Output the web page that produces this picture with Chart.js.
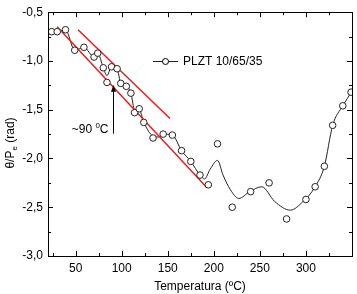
<!DOCTYPE html>
<html><head><meta charset="utf-8">
<script src="https://cdn.jsdelivr.net/npm/chart.js@4/dist/chart.umd.min.js"></script>
<style>html,body{margin:0;padding:0;background:#fff}#wrap{width:357px;height:294px;position:relative}</style>
</head><body><div id="wrap"><canvas id="c"></canvas></div>
<script>
// measured points
const temps = [24, 30, 39, 49, 59, 70, 74, 80, 84, 89, 95, 99, 105, 110, 114, 119, 124, 134, 145, 155, 165, 175, 185, 194, 204, 220, 240, 260, 279, 300, 310, 320, 329, 340, 349];
const theta = [-0.70, -0.70, -0.68, -0.89, -0.86, -0.96, -0.92, -1.07, -1.22, -1.06, -1.08, -1.23, -1.26, -1.33, -1.53, -1.49, -1.63, -1.79, -1.75, -1.76, -1.92, -2.03, -2.17, -2.27, -1.85, -2.50, -2.34, -2.25, -2.62, -2.42, -2.29, -2.08, -1.66, -1.46, -1.32];
// smooth curve
const fitT = [24, 30, 39, 49, 59, 70, 74, 80, 84, 89, 95, 99, 105, 110, 114, 119, 124, 134, 140, 145, 155, 165, 175, 185, 190, 196, 204, 210, 218, 227, 239, 252, 266, 283, 297, 310, 320, 329, 340, 350];
const fitV = [-0.70, -0.70, -0.68, -0.89, -0.86, -0.96, -0.92, -1.07, -1.15, -1.06, -1.08, -1.23, -1.26, -1.33, -1.50, -1.50, -1.63, -1.77, -1.78, -1.75, -1.76, -1.92, -2.03, -2.17, -2.21, -2.11, -2.02, -2.17, -2.32, -2.41, -2.34, -2.29, -2.44, -2.53, -2.44, -2.29, -2.08, -1.66, -1.46, -1.31];
// red linear fits
const redA_T = [52.6, 152.4];
const redA_V = [-0.68, -1.59];
const redB_T = [30, 192.6];
const redB_V = [-0.65, -2.30];
// axes
const xTicks = [50, 100, 150, 200, 250, 300];
const xMinor = [25, 75, 125, 175, 225, 275, 325];
const yTicks = [-0.5, -1.0, -1.5, -2.0, -2.5, -3.0];
const yMinor = [-0.75, -1.25, -1.75, -2.25, -2.75];
const xMin = 20, xMax = 350, yMin = -3.0, yMax = -0.5;
// annotation
const arrowT = 90.6, arrowFrom = -1.745, arrowTo = -1.245;
const arrowLabel = '~90 ', arrowSup = '0', arrowUnit = 'C';
const seriesName = 'PLZT 10/65/35';
const xTitle = 'Temperatura (ºC)';

const FONT = "'Liberation Sans', Arial, sans-serif";
const RED = '#e3201c';

const toXY = (xs, ys) => xs.map((x, i) => ({x, y: ys[i]}));

const deco = {
  id: 'deco',
  afterDatasetsDraw(chart) {
    const ctx = chart.ctx, a = chart.chartArea, sx = chart.scales.x, sy = chart.scales.y;
    ctx.save();
    ctx.strokeStyle = '#000'; ctx.lineWidth = 1;
    ctx.strokeRect(Math.round(a.left) + 0.5, Math.round(a.top) + 0.5, Math.round(a.right - a.left), Math.round(a.bottom - a.top));
    const tick = (vals, len) => {
      vals.forEach(v => {
        const px = Math.round(sx.getPixelForValue(v)) + 0.5;
        ctx.beginPath();
        ctx.moveTo(px, a.bottom); ctx.lineTo(px, a.bottom - len);
        ctx.moveTo(px, a.top); ctx.lineTo(px, a.top + len);
        ctx.stroke();
      });
    };
    const tickY = (vals, len) => {
      vals.forEach(v => {
        const py = Math.round(sy.getPixelForValue(v)) + 0.5;
        ctx.beginPath();
        ctx.moveTo(a.left, py); ctx.lineTo(a.left + len, py);
        ctx.moveTo(a.right, py); ctx.lineTo(a.right - len, py);
        ctx.stroke();
      });
    };
    tick(xTicks, 5); tick(xMinor, 3); tickY(yTicks, 5); tickY(yMinor, 3);

    // arrow
    const ax = Math.round(sx.getPixelForValue(arrowT)) + 0.5;
    const ay0 = sy.getPixelForValue(arrowFrom), ay1 = sy.getPixelForValue(arrowTo);
    ctx.beginPath(); ctx.moveTo(ax, ay0); ctx.lineTo(ax, ay1 + 5); ctx.stroke();
    ctx.fillStyle = '#000';
    ctx.beginPath(); ctx.moveTo(ax, ay1); ctx.lineTo(ax - 2.5, ay1 + 7); ctx.lineTo(ax + 2.5, ay1 + 7); ctx.closePath(); ctx.fill();
    // arrow label
    ctx.font = '12px ' + FONT; ctx.textBaseline = 'alphabetic';
    const wC = ctx.measureText(arrowUnit).width;
    ctx.font = '8px ' + FONT;
    const wS = ctx.measureText(arrowSup).width;
    ctx.font = '12px ' + FONT;
    const wL = ctx.measureText(arrowLabel).width;
    let lx = ax - 5 - wC - wS - wL, ly = ay0 - 1;
    ctx.textAlign = 'left';
    ctx.fillText(arrowLabel, lx, ly);
    ctx.font = '8px ' + FONT; ctx.fillText(arrowSup, lx + wL, ly - 5);
    ctx.font = '12px ' + FONT; ctx.fillText(arrowUnit, lx + wL + wS, ly);

    // legend
    const ly2 = Math.round(sy.getPixelForValue(-1.0)) + 0.5;
    const lx0 = a.left + 105;
    ctx.strokeStyle = '#222';
    ctx.beginPath(); ctx.moveTo(lx0, ly2); ctx.lineTo(lx0 + 25, ly2); ctx.stroke();
    ctx.fillStyle = '#fff'; ctx.strokeStyle = '#000';
    ctx.beginPath(); ctx.arc(lx0 + 12.5, ly2, 3, 0, Math.PI * 2); ctx.fill(); ctx.stroke();
    ctx.fillStyle = '#000'; ctx.font = '12px ' + FONT; ctx.textBaseline = 'middle';
    ctx.fillText(seriesName, lx0 + 30, ly2 + 0.5);

    // x title
    ctx.textAlign = 'center'; ctx.textBaseline = 'middle';
    ctx.fillText(xTitle, (a.left + a.right) / 2, 287);

    // y title (rotated) θ/Pe (rad)
    ctx.translate(11, 143); ctx.rotate(-Math.PI / 2);
    ctx.textAlign = 'left'; ctx.textBaseline = 'middle';
    const p1 = 'θ/P', sub = 'e', p2 = ' (rad)';
    ctx.font = '12px ' + FONT; const w1 = ctx.measureText(p1).width, w3 = ctx.measureText(p2).width;
    ctx.font = '8px ' + FONT; const w2 = ctx.measureText(sub).width;
    let x0 = -(w1 + w2 + w3) / 2;
    ctx.font = '12px ' + FONT; ctx.fillText(p1, x0, 0);
    ctx.font = '8px ' + FONT; ctx.fillText(sub, x0 + w1, 4);
    ctx.font = '12px ' + FONT; ctx.fillText(p2, x0 + w1 + w2, 0);
    ctx.restore();
  }
};

new Chart(document.getElementById('c'), {
  type: 'scatter',
  data: {
    datasets: [
      {label: seriesName, data: toXY(temps, theta), showLine: false, pointRadius: 3.3, pointBackgroundColor: '#fff', pointBorderColor: '#222', pointBorderWidth: 1, order: 0},
      {label: 'fitA', data: toXY(redA_T, redA_V), showLine: true, borderColor: RED, borderWidth: 1.5, pointRadius: 0, order: 1},
      {label: 'fitB', data: toXY(redB_T, redB_V), showLine: true, borderColor: RED, borderWidth: 1.5, pointRadius: 0, order: 1},
      {label: 'curve', data: toXY(fitT, fitV), showLine: true, borderColor: '#222', borderWidth: 1, pointRadius: 0, cubicInterpolationMode: 'monotone', order: 2}
    ]
  },
  options: {
    responsive: true, maintainAspectRatio: false, animation: false,
    layout: {padding: {top: 7, right: 5, left: 0, bottom: 0}},
    plugins: {legend: {display: false}, tooltip: {enabled: false}},
    scales: {
      x: {
        type: 'linear', min: xMin, max: xMax,
        afterBuildTicks: s => { s.ticks = xTicks.map(v => ({value: v})); },
        afterFit: s => { s.height = 38; },
        grid: {display: false, drawTicks: false}, border: {display: false},
        ticks: {autoSkip: false, maxRotation: 0, padding: 5, color: '#000', font: {family: FONT, size: 12}, callback: v => String(v)}
      },
      y: {
        type: 'linear', min: yMin, max: yMax,
        afterBuildTicks: s => { s.ticks = yTicks.map(v => ({value: v})); },
        afterFit: s => { s.width = 48; },
        grid: {display: false, drawTicks: false}, border: {display: false},
        ticks: {autoSkip: false, padding: 5, color: '#000', font: {family: FONT, size: 12}, callback: v => v.toFixed(1).replace('.', ',')}
      }
    }
  },
  plugins: [deco]
});
</script></body></html>
